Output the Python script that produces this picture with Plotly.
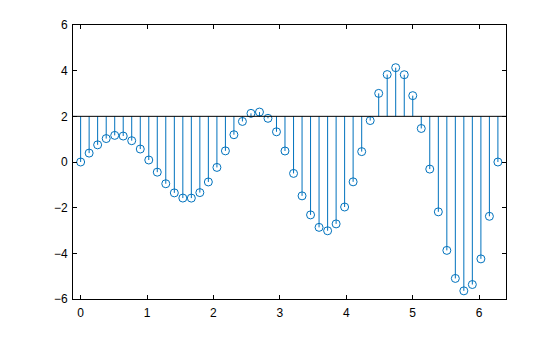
import plotly.graph_objects as go

# Data
x_vals = [0.000, 0.128, 0.256, 0.385, 0.513, 0.641, 0.769, 0.898, 1.026, 1.154,
          1.282, 1.411, 1.539, 1.667, 1.795, 1.923, 2.052, 2.180, 2.308, 2.436,
          2.565, 2.693, 2.821, 2.949, 3.077, 3.206, 3.334, 3.462, 3.590, 3.719,
          3.847, 3.975, 4.103, 4.232, 4.360, 4.488, 4.616, 4.744, 4.873, 5.001,
          5.129, 5.257, 5.386, 5.514, 5.642, 5.770, 5.898, 6.027, 6.155, 6.283]
y_vals = [0.000, 0.390, 0.752, 1.026, 1.166, 1.137, 0.933, 0.568, 0.087, -0.445,
          -0.952, -1.353, -1.579, -1.581, -1.340, -0.874, -0.237, 0.488, 1.195, 1.776,
          2.130, 2.187, 1.913, 1.323, 0.482, -0.500, -1.483, -2.317, -2.862, -3.012,
          -2.711, -1.971, -0.869, 0.455, 1.815, 3.005, 3.829, 4.131, 3.823, 2.906,
          1.468, -0.310, -2.183, -3.871, -5.099, -5.643, -5.366, -4.243, -2.378, 0.000]
base_value = 2
x_ticks = [0, 1, 2, 3, 4, 5, 6]
y_ticks = [-6, -4, -2, 0, 2, 4, 6]

color = "#0072BD"

stem_x, stem_y = [], []
for xv, yv in zip(x_vals, y_vals):
    stem_x += [xv, xv, None]
    stem_y += [base_value, yv, None]

fig = go.Figure()
fig.add_trace(go.Scatter(x=stem_x, y=stem_y, mode="lines",
                         line=dict(color=color, width=1), hoverinfo="skip"))
fig.add_trace(go.Scatter(x=x_vals, y=y_vals, mode="markers",
                         marker=dict(symbol="circle-open", size=8,
                                     color=color, line=dict(color=color, width=1))))

fig.add_shape(type="line", xref="paper", yref="y", x0=0, x1=1,
              y0=base_value, y1=base_value, line=dict(color="black", width=1))

axis_common = dict(showgrid=False, zeroline=False, showline=True, linecolor="black",
                   linewidth=1, mirror="ticks", ticks="inside", ticklen=4,
                   tickcolor="black", tickwidth=1,
                   tickfont=dict(family="Liberation Sans, Arial, sans-serif",
                                 size=12, color="black"))

fig.update_xaxes(range=[-0.115, 6.405], tickvals=x_ticks, ticklabelstandoff=3,
                 **axis_common)
fig.update_yaxes(range=[-6, 6], tickvals=y_ticks, ticklabelstandoff=2,
                 **axis_common)

fig.update_layout(width=560, height=337, showlegend=False,
                  margin=dict(l=73, r=54, t=25, b=38),
                  plot_bgcolor="white", paper_bgcolor="white")

fig.write_html("out.html")
